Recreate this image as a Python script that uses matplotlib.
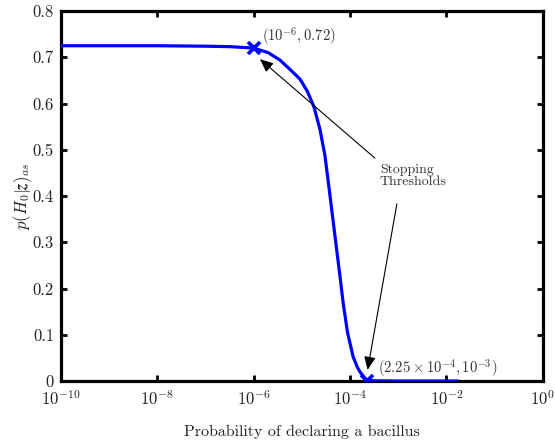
import numpy as np
import matplotlib
matplotlib.use("Agg")
import matplotlib.pyplot as plt

plt.rcParams['font.family'] = 'serif'
plt.rcParams['font.serif'] = ['cmr10']
plt.rcParams['mathtext.fontset'] = 'cm'
plt.rcParams['axes.formatter.use_mathtext'] = True

# curve (log10 of probability, p(H0|z))
log_p = [-10.0, -9.0, -8.0, -7.0, -6.5, -6.0, -5.7, -5.456, -5.25, -5.041,
         -4.89, -4.751, -4.627, -4.523, -4.434, -4.351, -4.28, -4.212,
         -4.143, -4.052, -3.936, -3.85, -3.797, -3.70, -3.648, -3.5, -3.0, -2.0, -1.78]
p_h0 = [0.725, 0.725, 0.725, 0.724, 0.723, 0.720, 0.710, 0.694, 0.674, 0.653,
        0.627, 0.593, 0.545, 0.488, 0.415, 0.345, 0.285, 0.228,
        0.168, 0.104, 0.052, 0.030, 0.020, 0.007, 0.002, 0.0005, 0.0, 0.0, 0.0]

thresh_x = [1e-6, 2.25e-4]
thresh_y = [0.72, 1e-3]
thresh_labels = [r'$(10^{-6},0.72)$', r'$(2.25\times10^{-4},10^{-3})$']

xtick_vals = [1e-10, 1e-8, 1e-6, 1e-4, 1e-2, 1e0]
xtick_labels = [r'$10^{-10}$', r'$10^{-8}$', r'$10^{-6}$', r'$10^{-4}$', r'$10^{-2}$', r'$10^{0}$']
ytick_vals = [0, 0.1, 0.2, 0.3, 0.4, 0.5, 0.6, 0.7, 0.8]
ytick_labels = ['0', '0.1', '0.2', '0.3', '0.4', '0.5', '0.6', '0.7', '0.8']

fig = plt.figure(figsize=(5.55, 4.42), dpi=100)
ax = fig.add_axes([0.110, 0.138, 0.868, 0.837])

x = 10.0 ** np.array(log_p)
ax.plot(x, p_h0, color='#0000ff', lw=2.3, solid_joinstyle='round', zorder=3)
ax.plot(thresh_x, thresh_y, 'x', color='#0000ff', ms=8, mew=2.6, zorder=4)

ax.set_xscale('log')
ax.set_xlim(1e-10, 1)
ax.set_ylim(0, 0.8)
ax.set_xticks(xtick_vals)
ax.set_xticklabels(xtick_labels)
ax.minorticks_off()
ax.set_yticks(ytick_vals)
ax.set_yticklabels(ytick_labels)

for s in ax.spines.values():
    s.set_linewidth(2.3)
ax.tick_params(direction='in', top=True, right=True, length=4, width=2,
               labelsize=12, labelcolor='#222222')
ax.tick_params(axis='x', pad=6)
ax.tick_params(axis='y', pad=5)

ax.set_xlabel('Probability of declaring a bacillus', fontsize=11.5, color='#222222', labelpad=12)
ax.set_ylabel(r'$p(H_0|\boldsymbol{z})_{as}$', fontsize=12, color='#222222')
ax.yaxis.set_label_coords(-0.056, 0.5)

# point labels
ax.text(10 ** -5.83, 0.746, thresh_labels[0], fontsize=10.5, color='#333333', va='center', ha='left')
ax.text(10 ** -3.42, 0.028, thresh_labels[1], fontsize=10.5, color='#333333', va='center', ha='left')

ax.text(10 ** -3.38, 0.443, 'Stopping\nThresholds', fontsize=10, color='#333333',
        va='center', ha='left', linespacing=1.0)

arrow = dict(arrowstyle='-|>,head_length=0.8,head_width=0.35', color='k', lw=0.8,
             mutation_scale=10, shrinkA=0, shrinkB=0)
ax.annotate('', xy=(10 ** -5.871, 0.696), xytext=(10 ** -3.485, 0.482), arrowprops=arrow)
ax.annotate('', xy=(10 ** -3.637, 0.024), xytext=(10 ** -3.029, 0.383), arrowprops=arrow)

fig.savefig('out.png', dpi=100)
